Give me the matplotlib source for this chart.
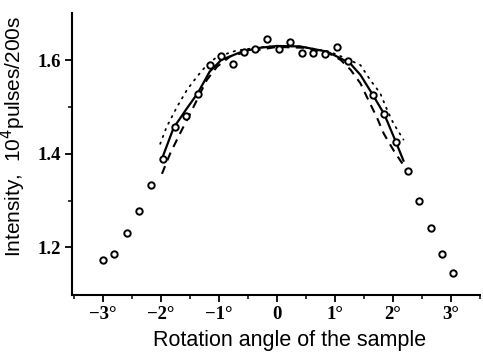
import matplotlib
matplotlib.use("Agg")
import matplotlib.pyplot as plt
from matplotlib.ticker import MultipleLocator, FixedLocator

# measured points
pts_x = [-3.0, -2.80, -2.59, -2.38, -2.17, -1.97, -1.76, -1.57, -1.36, -1.16, -0.96, -0.76,
         -0.57, -0.37, -0.17, 0.03, 0.23, 0.43, 0.63, 0.83, 1.03, 1.23, 1.65, 1.85, 2.05,
         2.25, 2.45, 2.65, 2.84, 3.04]
pts_y = [1.173, 1.186, 1.230, 1.278, 1.334, 1.389, 1.458, 1.481, 1.527, 1.589, 1.609, 1.591,
         1.618, 1.623, 1.644, 1.623, 1.639, 1.616, 1.616, 1.613, 1.627, 1.597, 1.526, 1.484, 1.424,
         1.363, 1.300, 1.241, 1.186, 1.146]

# solid fitted curve
solid_x = [-1.98, -1.78, -1.56, -1.36, -1.16, -0.96, -0.6, -0.3, 0.0, 0.4, 0.86, 1.09, 1.26,
           1.44, 1.65, 1.85, 2.05, 2.18]
solid_y = [1.389, 1.455, 1.495, 1.530, 1.575, 1.600, 1.618, 1.626, 1.630, 1.629, 1.618, 1.604,
           1.593, 1.568, 1.526, 1.484, 1.425, 1.385]

# dashed curve
dash_x = [-1.98, -1.84, -1.67, -1.52, -1.38, -1.21, -1.03, -0.8, -0.5, 0.0, 0.5, 0.9, 1.1,
          1.27, 1.44, 1.55, 1.72, 1.84, 2.01, 2.16, 2.24]
dash_y = [1.357, 1.400, 1.443, 1.479, 1.514, 1.557, 1.586, 1.608, 1.618, 1.628, 1.626, 1.614,
          1.600, 1.579, 1.550, 1.521, 1.478, 1.443, 1.407, 1.379, 1.361]

# dotted curve
dot_x = [-2.01, -1.9, -1.72, -1.55, -1.38, -1.21, -1.03, -0.7, -0.3, 0.0, 0.4, 0.9, 1.2,
         1.44, 1.61, 1.78, 1.9, 2.01, 2.18]
dot_y = [1.421, 1.457, 1.500, 1.536, 1.564, 1.589, 1.607, 1.620, 1.627, 1.630, 1.629, 1.618,
         1.603, 1.589, 1.557, 1.529, 1.493, 1.464, 1.430]

xtick_vals = [-3, -2, -1, 0, 1, 2, 3]
xtick_labels = ["\u22123\u00b0", "\u22122\u00b0", "\u22121\u00b0", "0", "1\u00b0", "2\u00b0", "3\u00b0"]
ytick_vals = [1.2, 1.4, 1.6]
ytick_labels = ["1.2", "1.4", "1.6"]

fig = plt.figure(figsize=(4.83, 3.56), dpi=100)
ax = fig.add_axes([0.149, 0.171, 0.845, 0.792])

ax.plot(dot_x, dot_y, color="black", lw=1.3, linestyle=(0, (0.8, 3.2)), dash_capstyle="round")
ax.plot(dash_x, dash_y, color="black", lw=1.5, linestyle=(0, (4, 3)))
ax.plot(solid_x, solid_y, color="black", lw=1.6)
ax.plot(pts_x, pts_y, linestyle="none", marker="o", ms=4.6, mfc="white", mec="black", mew=1.4)

ax.set_xlim(-3.53, 3.5)
ax.set_ylim(1.098, 1.70)

for s in ["top", "right"]:
    ax.spines[s].set_visible(False)
for s in ["left", "bottom"]:
    ax.spines[s].set_linewidth(1.5)

ax.set_xticks(xtick_vals)
ax.set_xticklabels(xtick_labels, fontfamily="Liberation Serif", fontweight="bold", fontsize=13.5)
ax.set_yticks(ytick_vals)
ax.set_yticklabels(ytick_labels, fontfamily="Liberation Serif", fontweight="bold", fontsize=13.5)
ax.xaxis.set_minor_locator(MultipleLocator(0.5))
ax.yaxis.set_minor_locator(FixedLocator([1.3, 1.5]))
ax.tick_params(which="major", direction="out", length=5, width=1.3, pad=3)
ax.tick_params(which="minor", direction="out", length=3, width=1.1)

ax.set_xlabel("Rotation angle of the sample", fontfamily="Liberation Sans", fontsize=15.5)
ax.set_ylabel("Intensity,  10$^4$pulses/200s", fontfamily="Liberation Sans", fontsize=15)
ax.xaxis.set_label_coords(0.533, -0.125)
ax.yaxis.set_label_coords(-0.108, 0.562)

fig.savefig("out.png", dpi=100)
